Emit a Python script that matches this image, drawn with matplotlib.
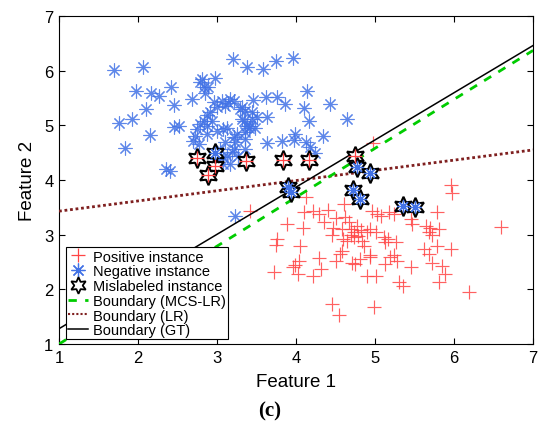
import matplotlib
matplotlib.use("Agg")
import matplotlib.pyplot as plt
from matplotlib.lines import Line2D
import numpy as np

plt.rcParams['font.family'] = ['Liberation Sans', 'DejaVu Sans']

# ---------------- data ----------------
neg_x = [1.70, 2.06, 1.97, 2.16, 2.27, 2.42, 2.45, 2.10, 1.93, 1.76, 2.15, 1.84, 2.46, 2.52, 2.35, 2.41,
         2.68, 2.79, 2.83, 2.89, 2.85, 2.97, 2.81,
         3.20, 3.38, 3.58, 3.74, 3.96, 4.14, 4.43, 4.64, 4.10, 4.16, 3.62, 3.76, 3.86, 3.46, 3.63, 4.34,
         3.82, 3.98, 4.12, 4.18, 3.63, 3.99, 4.24, 3.36, 3.23, 3.34, 3.42, 3.44, 3.29, 3.17, 3.10, 3.06,
         3.13, 3.25, 3.10, 3.19, 3.17, 3.08,
         3.21, 3.14, 3.32, 3.36, 3.44, 3.38, 3.32, 2.96, 3.00, 2.91, 2.87, 2.83, 2.79, 2.87, 2.93,
         2.75, 2.72, 2.70, 2.77, 2.87, 3.00, 3.08, 3.21, 3.36, 3.21, 3.13, 3.08, 3.27, 3.36, 3.40,
         3.51, 3.48, 3.04, 3.00, 3.23]
neg_y = [6.01, 6.07, 5.63, 5.60, 5.53, 5.70, 5.38, 5.30, 5.11, 5.04, 4.82, 4.59, 4.97, 4.98, 4.21, 4.16,
         5.49, 5.79, 5.70, 5.71, 5.60, 5.87, 5.85,
         6.21, 6.07, 6.03, 6.17, 6.23, 5.63, 5.39, 5.12, 5.32, 5.08, 5.51, 5.51, 5.39, 5.46, 5.15, 4.81,
         4.71, 4.73, 4.69, 4.60, 4.67, 4.84, 4.49, 4.75, 4.69, 5.08, 4.99, 5.24, 5.30, 5.48, 5.36, 5.45,
         4.96, 4.84, 4.69, 4.51, 4.29, 4.42,
         5.45, 5.40, 5.34, 5.27, 5.12, 4.99, 5.12, 5.42, 5.33, 5.24, 5.18, 5.08, 5.02, 4.99, 5.08,
         4.93, 4.81, 4.72, 4.66, 4.84, 4.90, 4.93, 4.78, 4.57, 4.57, 4.44, 4.29, 4.44, 4.87, 4.96,
         5.15, 4.96, 4.57, 4.38, 3.35]

pos_x = [3.42, 4.13, 4.10, 4.22, 4.29, 4.35, 3.89, 4.09, 4.50, 4.62, 4.61, 4.67, 4.73, 4.69, 4.77,
         4.46, 4.60, 4.65, 4.73, 4.84, 4.86, 4.90, 4.96, 5.03, 3.76, 3.74, 4.05, 4.04, 4.29, 4.58,
         4.56, 4.50, 4.71, 4.75, 4.81, 4.94, 3.99, 3.96, 4.31, 4.02, 4.21, 3.72, 4.90, 5.01, 4.46,
         4.54, 4.99, 5.96, 5.98, 6.60, 5.78, 5.07, 5.24, 5.45, 5.47, 5.64, 5.70, 5.68, 5.72, 5.81,
         5.79, 5.96, 5.62, 5.68, 5.72, 5.85, 5.89, 5.81, 6.19, 5.45, 5.30, 5.36, 5.11, 5.17, 5.26,
         5.13, 5.24, 5.28, 5.19, 5.13, 4.94, 4.94, 5.01, 4.81, 4.98, 4.70, 4.78, 4.82, 4.58, 4.40,
         5.18, 4.47]
pos_y = [3.44, 3.68, 3.41, 3.44, 3.38, 3.23, 3.20, 3.13, 3.30, 3.32, 3.56, 3.23, 3.04, 3.10, 3.16,
         2.99, 2.92, 2.89, 2.95, 2.89, 2.80, 3.04, 3.44, 3.38, 2.92, 2.81, 2.80, 2.52, 2.58, 2.71,
         2.65, 2.51, 2.49, 2.46, 2.56, 2.59, 2.45, 2.40, 2.37, 2.28, 2.24, 2.32, 2.25, 2.25, 1.73,
         1.53, 1.67, 3.91, 3.76, 3.14, 3.42, 3.35, 3.38, 3.29, 3.20, 3.16, 3.13, 3.04, 2.99, 3.10,
         2.80, 2.74, 2.74, 2.65, 2.49, 2.43, 2.28, 2.13, 1.96, 2.40, 2.13, 2.07, 2.95, 2.92, 2.86,
         2.86, 2.62, 2.52, 2.59, 2.46, 2.62, 3.10, 3.04, 3.59, 4.68, 3.00, 2.98, 3.08, 3.10, 3.45,
         3.42, 3.12]

# mislabeled instances (observed as positive, shown with red plus)
mis_pos_x = [2.75, 2.98, 2.89, 3.37, 3.83, 4.17, 4.74]
mis_pos_y = [4.40, 4.26, 4.10, 4.35, 4.37, 4.37, 4.43]
# mislabeled instances (observed as negative, shown with blue asterisk)
mis_neg_x = [2.98, 3.90, 3.94, 4.72, 4.81, 4.77, 4.94, 5.36, 5.51]
mis_neg_y = [4.49, 3.87, 3.78, 3.82, 3.66, 4.23, 4.12, 3.52, 3.50]

# decision boundaries: y values at x = 1 and x = 7
bound_x = [1, 7]
gt_y = [1.28, 6.46]
mcs_y = [1.00, 6.37]
lr_y = [3.43, 4.55]

xticks = [1, 2, 3, 4, 5, 6, 7]
yticks = [1, 2, 3, 4, 5, 6, 7]

# ---------------- style ----------------
RED = '#FF4545'
BLUE = '#4272E6'
GREEN = '#00CC00'
BROWN = '#7F1F1F'
AST = (8, 2, 0)
HEX = (6, 1, 0)

fig = plt.figure(figsize=(5.39, 4.31), dpi=100)
ax = fig.add_axes([0.1095, 0.1995, 0.8795, 0.7611])

ax.plot(pos_x, pos_y, linestyle='none', marker='+', color=RED, markersize=10,
        markeredgewidth=0.85, alpha=0.85, zorder=2)
ax.plot(neg_x, neg_y, linestyle='none', marker=AST, color=BLUE, markersize=10,
        markeredgewidth=0.8, alpha=0.85, zorder=2)

ax.plot(bound_x, lr_y, linestyle=(0, (1, 1)), color=BROWN, linewidth=2.0, zorder=3)
ax.plot(bound_x, mcs_y, linestyle=(0, (3, 3)), color=GREEN, linewidth=2.0, zorder=3)
ax.plot(bound_x, gt_y, linestyle='-', color='black', linewidth=1.1, zorder=3)

ax.plot(mis_pos_x + mis_neg_x, mis_pos_y + mis_neg_y, linestyle='none', marker=HEX,
        markersize=14, markerfacecolor='white', markeredgecolor='black',
        markeredgewidth=1.5, zorder=4)
ax.plot(mis_pos_x, mis_pos_y, linestyle='none', marker='+', color=RED, markersize=10,
        markeredgewidth=0.9, zorder=5)
ax.plot(mis_neg_x, mis_neg_y, linestyle='none', marker=AST, color=BLUE, markersize=9,
        markeredgewidth=0.9, zorder=5)

ax.set_xlim(1, 7)
ax.set_ylim(1, 7)
ax.set_xticks(xticks)
ax.set_yticks(yticks)
ax.set_xticklabels([str(t) for t in xticks])
ax.set_yticklabels([str(t) for t in yticks])
ax.tick_params(direction='in', top=True, right=True, length=4, width=0.8,
               labelsize=12, pad=4)
for s in ax.spines.values():
    s.set_linewidth(0.8)

ax.set_xlabel('Feature 1', fontsize=13.5, labelpad=6)
ax.set_ylabel('Feature 2', fontsize=13.5, labelpad=6)

handles = [
    Line2D([], [], linestyle='none', marker='+', color=RED, markersize=10, markeredgewidth=0.9),
    Line2D([], [], linestyle='none', marker=AST, color=BLUE, markersize=10, markeredgewidth=0.9),
    Line2D([], [], linestyle='none', marker=HEX, markersize=12, markerfacecolor='white',
           markeredgecolor='black', markeredgewidth=1.3),
    Line2D([], [], linestyle=(0, (3, 3)), color=GREEN, linewidth=2.0),
    Line2D([], [], linestyle=(0, (1, 1)), color=BROWN, linewidth=1.5),
    Line2D([], [], linestyle='-', color='black', linewidth=1.1),
]
labels = ['Positive instance', 'Negative instance', 'Mislabeled instance',
          'Boundary (MCS-LR)', 'Boundary (LR)', 'Boundary (GT)']
leg = ax.legend(handles, labels, loc='lower left', bbox_to_anchor=(0.014, 0.014),
                borderaxespad=0, fontsize=10.5, handlelength=1.4, handletextpad=0.3,
                labelspacing=0.05, borderpad=0.15, fancybox=False, framealpha=1,
                edgecolor='black')
leg.get_frame().set_linewidth(0.8)

fig.text(0.5, 0.045, '(c)', ha='center', va='center', fontsize=15, fontweight='bold',
         family=['Liberation Serif', 'DejaVu Serif'])

fig.savefig('out.png', dpi=100)
